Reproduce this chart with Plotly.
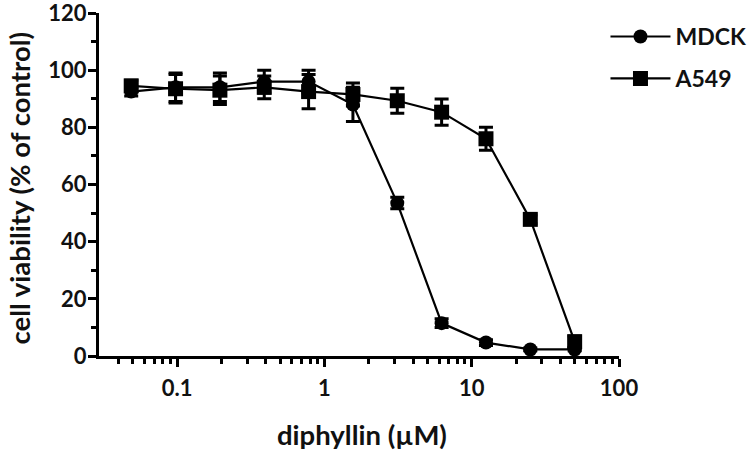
import plotly.graph_objects as go

conc = [0.048828125, 0.09765625, 0.1953125, 0.390625, 0.78125, 1.5625, 3.125, 6.25, 12.5, 25, 50]
mdck = [92.5, 94, 94, 96, 96, 88, 53.5, 11.5, 4.7, 2.3, 2.3]
mdck_err = [1.5, 5, 5, 4, 4, 6, 2, 1.5, 1, 0.5, 0.5]
a549 = [94.5, 93.5, 93, 94, 92.5, 91.5, 89.3, 85.3, 76, 47.8, 5]
a549_err = [2, 5, 5, 4, 6, 4, 4.4, 4.6, 4, 1.5, 2]

x_major = [0.1, 1, 10, 100]
x_major_text = ["0.1", "1", "10", "100"]
x_minor = [0.04, 0.05, 0.06, 0.07, 0.08, 0.09,
           0.2, 0.3, 0.4, 0.5, 0.6, 0.7, 0.8, 0.9,
           2, 3, 4, 5, 6, 7, 8, 9,
           20, 30, 40, 50, 60, 70, 80, 90]
y_major = [0, 20, 40, 60, 80, 100, 120]
y_minor = [10, 30, 50, 70, 90, 110]

FAM = "Lato, Arial, sans-serif"
TICKFONT = dict(family=FAM, size=22, color="#111111", weight="bold")
TITLEFONT = dict(family=FAM, size=27.5, color="#111111", weight="bold")
LEGFONT = dict(family=FAM, size=23, color="#111111", weight="bold")

fig = go.Figure()
fig.add_trace(go.Scatter(
    x=conc, y=mdck, name="MDCK", legendgroup="m", mode="lines+markers",
    line=dict(color="black", width=2.2),
    marker=dict(symbol="circle", size=14, color="black"),
    error_y=dict(type="data", array=mdck_err, color="black", thickness=3, width=7),
))
fig.add_trace(go.Scatter(
    x=conc, y=a549, name="A549", legendgroup="a", mode="lines+markers",
    line=dict(color="black", width=2.2),
    marker=dict(symbol="square", size=15, color="black"),
    error_y=dict(type="data", array=a549_err, color="black", thickness=3, width=7),
))

L, R, T, B = 99, 130.5, 13, 96
fig.update_layout(
    width=750, height=452,
    margin=dict(l=L, r=R, t=T, b=B, autoexpand=False),
    paper_bgcolor="white", plot_bgcolor="white",
    font=TICKFONT,
    showlegend=True,
    legend=dict(x=0.974, xanchor="left", y=0.994, yanchor="top",
                font=LEGFONT, itemwidth=60, tracegroupgap=9,
                traceorder="grouped", bgcolor="rgba(0,0,0,0)"),
    annotations=[
        dict(text="diphyllin (µM)", x=0.506, y=-0.230, xref="paper", yref="paper",
             xanchor="center", yanchor="middle", showarrow=False, font=TITLEFONT),
        dict(text="cell viability (% of control)", x=-0.152, y=0.491, xref="paper", yref="paper",
             xanchor="center", yanchor="middle", showarrow=False, textangle=-90, font=TITLEFONT),
    ],
)
fig.update_xaxes(
    type="log", range=[-1.53, 2.0], automargin=False, ticklabeloverflow="allow",
    tickvals=x_major, ticktext=x_major_text,
    ticks="outside", ticklen=8, tickwidth=2.5, tickcolor="black",
    showline=True, linecolor="black", linewidth=3,
    showgrid=False, zeroline=False, ticklabelstandoff=3,
    minor=dict(tickvals=x_minor, ticks="outside", ticklen=5, tickwidth=2.5, tickcolor="black", showgrid=False),
    tickfont=TICKFONT,
)
fig.update_yaxes(
    range=[0, 120], automargin=False, ticklabeloverflow="allow",
    tickvals=y_major,
    ticks="outside", ticklen=8, tickwidth=2.5, tickcolor="black",
    showline=True, linecolor="black", linewidth=3,
    showgrid=False, zeroline=False, ticklabelstandoff=-3,
    minor=dict(tickvals=y_minor, ticks="outside", ticklen=5, tickwidth=2.5, tickcolor="black", showgrid=False),
    tickfont=TICKFONT,
)

fig.write_html("out.html", config={"displayModeBar": False},
               post_script="document.body.style.margin='0';")
